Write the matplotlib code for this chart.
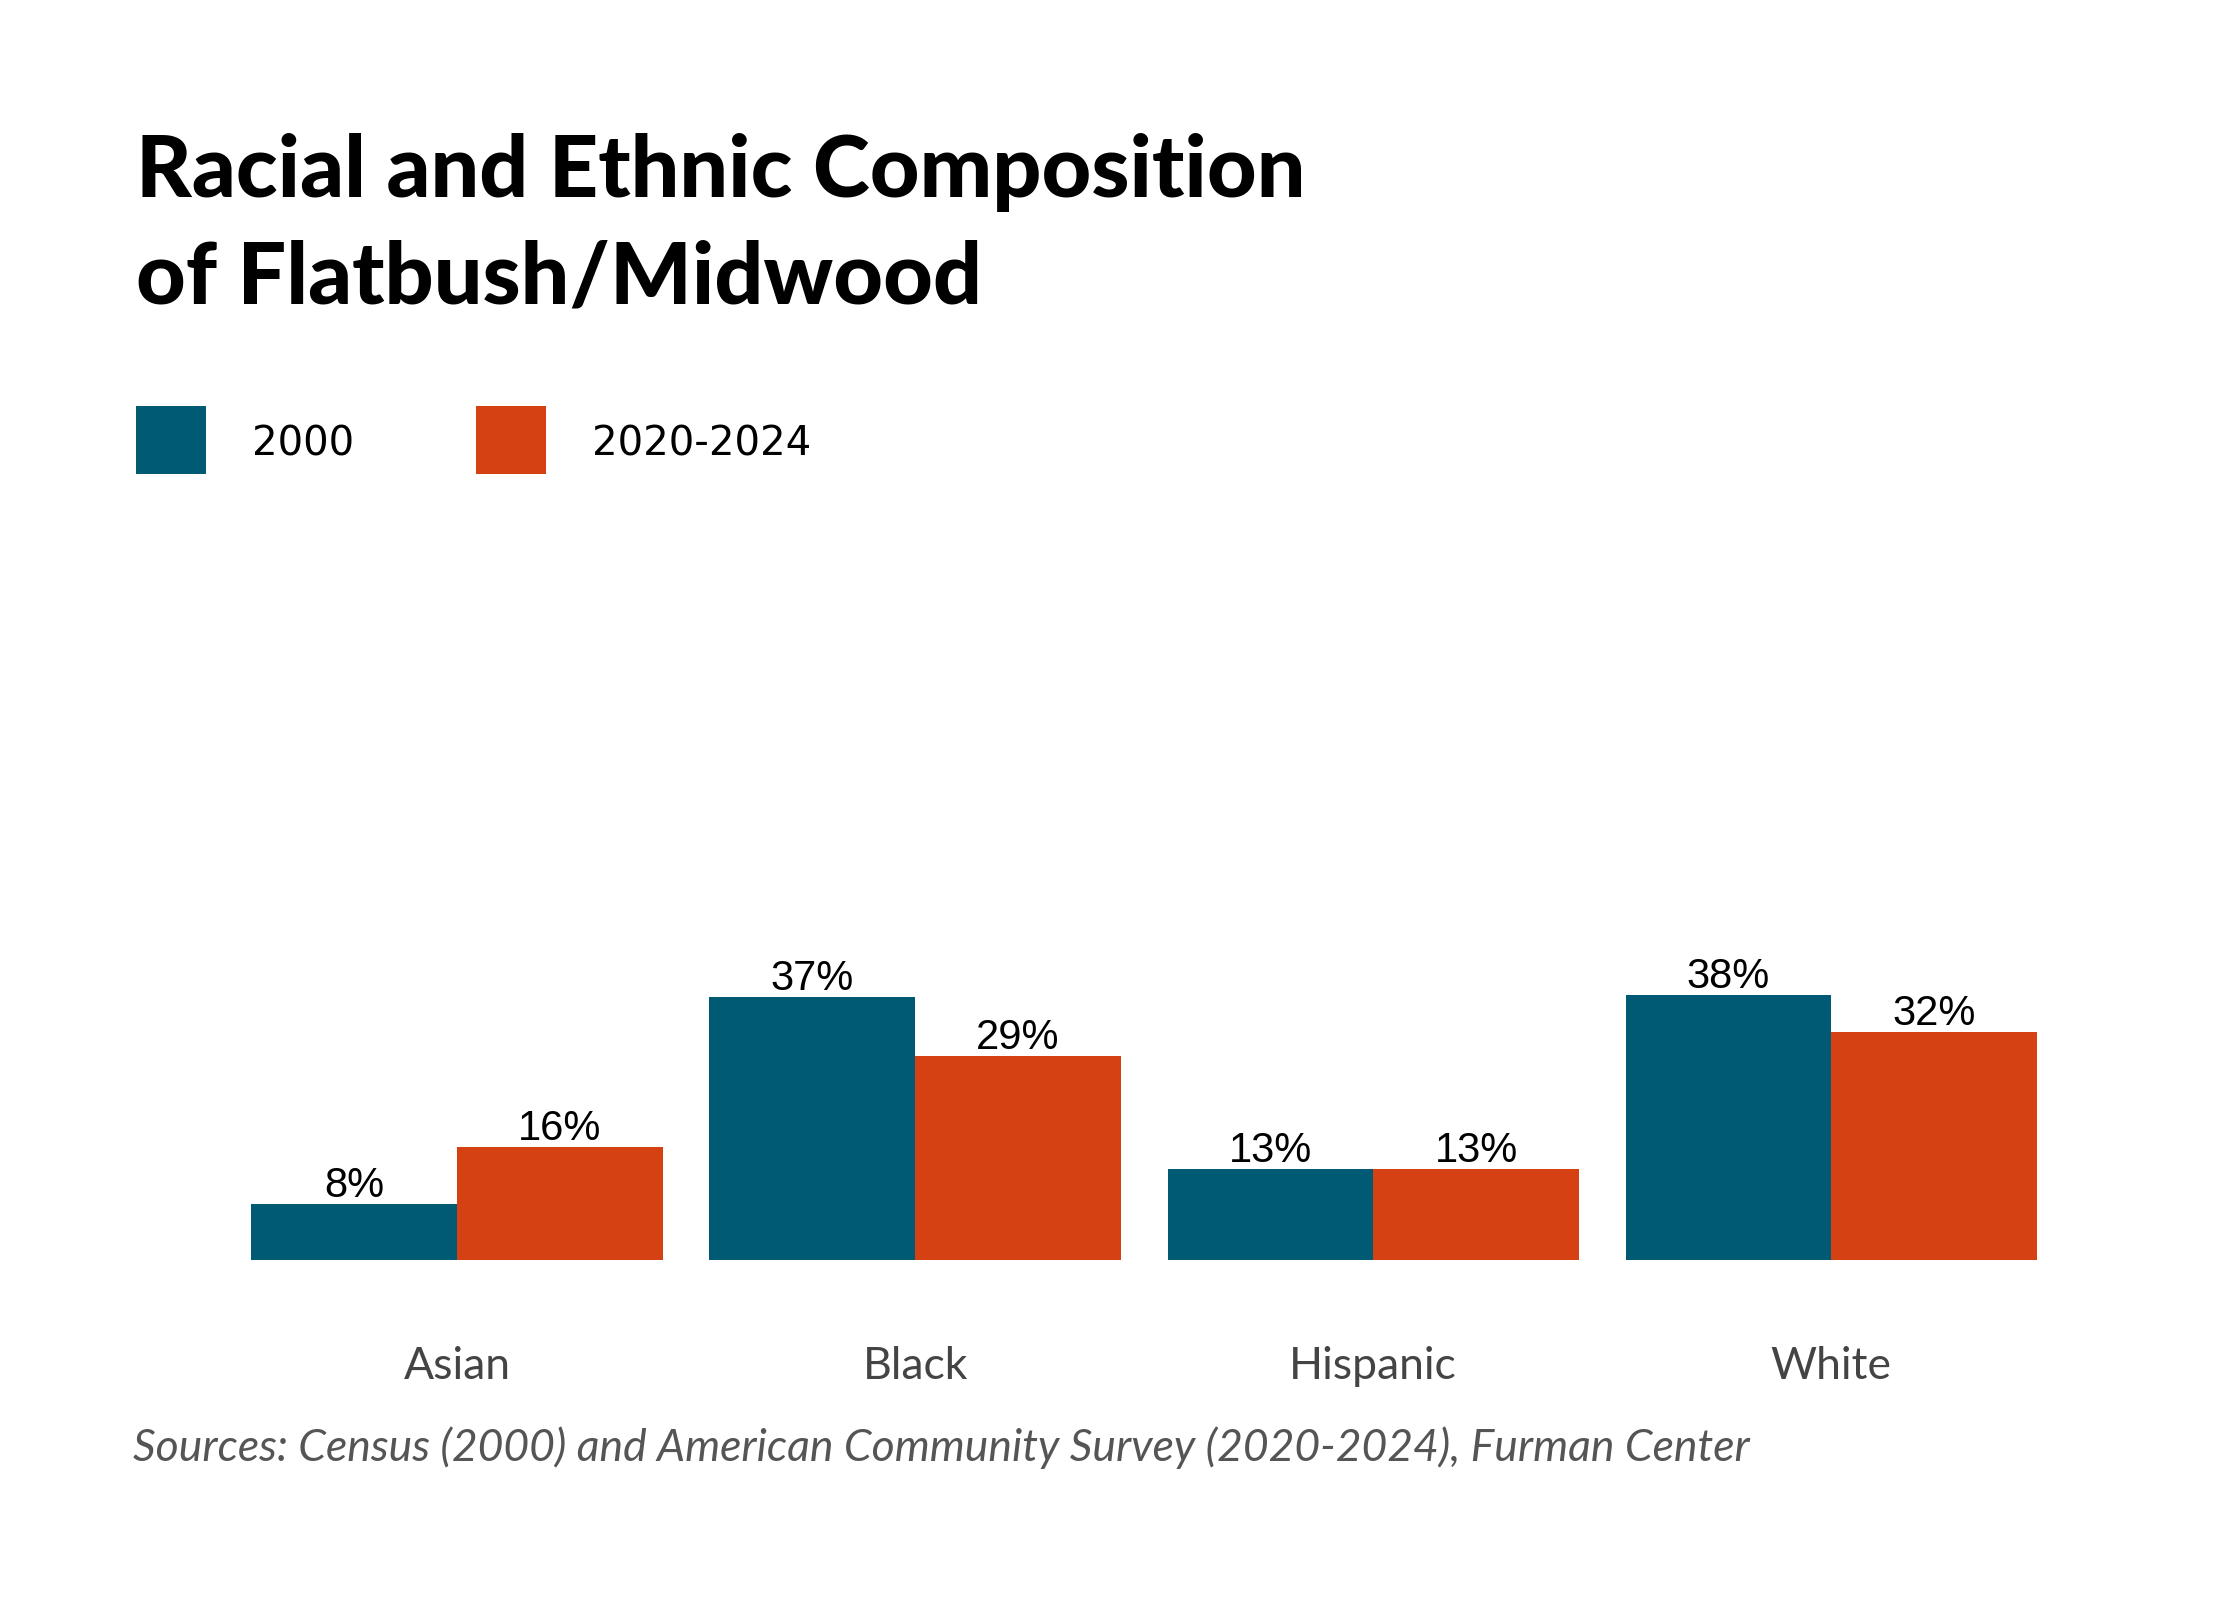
import matplotlib
matplotlib.use("Agg")
import matplotlib.pyplot as plt
import numpy as np

categories = ["Asian", "Black", "Hispanic", "White"]
series_names = ["2000", "2020-2024"]
values_2000 = [7.95, 37.4, 12.95, 37.6]
values_2020 = [16.0, 29.0, 12.95, 32.4]
labels_2000 = ["8%", "37%", "13%", "38%"]
labels_2020 = ["16%", "29%", "13%", "32%"]

title_lines = ["Racial and Ethnic Composition", "of Flatbush/Midwood"]
source = "Sources: Census (2000) and American Community Survey (2020-2024), Furman Center"

BLUE = "#005A73"
ORANGE = "#D64113"

fig = plt.figure(figsize=(11.2, 8), dpi=200)
fig.patch.set_facecolor("white")

ax = fig.add_axes([0.1018, 0.2125, 0.818, 0.44])
x = np.arange(len(categories))
w = 0.449
b1 = ax.bar(x - w / 2, values_2000, width=w, color=BLUE, linewidth=0)
b2 = ax.bar(x + w / 2, values_2020, width=w, color=ORANGE, linewidth=0)
for bars, labs in ((b1, labels_2000), (b2, labels_2020)):
    for r, lab in zip(bars, labs):
        ax.annotate(lab, (r.get_x() + r.get_width() / 2, r.get_height()),
                    xytext=(0, 2.5), textcoords="offset points",
                    ha="center", va="baseline", fontsize=15,
                    family="Liberation Sans", color="black")
ax.set_xlim(-0.5, 3.5)
ax.set_ylim(0, 100)
ax.set_yticks([])
ax.set_xticks(x)
ax.set_xticklabels(categories, family="Lato", fontsize=16, color="#444444")
ax.tick_params(axis="x", length=0, pad=31)
for s in ax.spines.values():
    s.set_visible(False)

for y, line in zip([0.8769, 0.8106], title_lines):
    fig.text(0.0606, y, line, family="Lato", fontweight="black", fontsize=31,
             color="black", ha="left", va="baseline")

# legend
lx = [0.0607, 0.2125]
for i, (name, col) in enumerate(zip(series_names, [BLUE, ORANGE])):
    fig.patches.append(matplotlib.patches.Rectangle((lx[i], 0.7037), 0.0313, 0.0425,
                       transform=fig.transFigure, color=col, linewidth=0))
    fig.text(lx[i] + 0.052, 0.7225, name, family="DejaVu Sans", fontsize=14.5,
             color="black", ha="left", va="center")

fig.text(0.0594, 0.0955, source, family="Lato", style="italic", fontsize=16,
         color="#555555", ha="left", va="center")

fig.savefig("out.png", dpi=200, facecolor="white")
